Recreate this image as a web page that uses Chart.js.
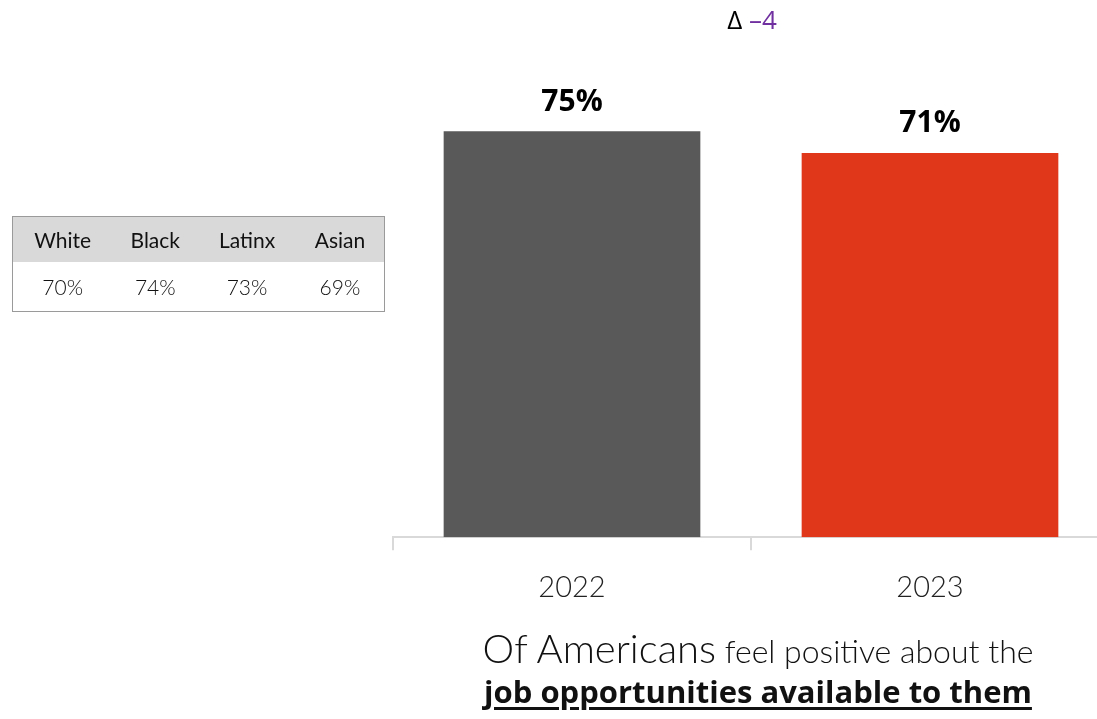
<!DOCTYPE html>
<html>
<head>
<meta charset="utf-8">
<script src="https://cdn.jsdelivr.net/npm/chart.js@4"></script>
<style>
  html, body { margin: 0; padding: 0; background: #fff; overflow: hidden; width: 1097px; height: 719px; }
  #wrap { position: relative; width: 1097px; height: 719px; overflow: hidden; }
  #chart { position: absolute; left: 0; top: -4px; }
  #delta { position: absolute; top: 1px; left: 690px; width: 124px; text-align: center;
           font-family: "Open Sans", sans-serif; font-size: 26px; color: #000; }
  #delta .chg { color: #7030a0; }
  #groups { position: absolute; left: 12px; top: 216px; width: 373px; border: 1px solid #9a9a9a;
            border-collapse: collapse; font-family: Lato, sans-serif; font-weight: 300; font-size: 21px; color: #111; }
  #groups th { background: #d9d9d9; font-weight: 400; height: 45px; padding: 0; text-align: center; }
  #groups td { height: 49px; padding: 0; text-align: center; }
  #caption { position: absolute; left: 438px; top: 626px; width: 640px; text-align: center; color: #111; }
  #caption .l1 { font-family: Lato, sans-serif; font-weight: 300; font-size: 32px; line-height: 44px; }
  #caption .l1 .big { font-size: 40px; }
  #caption .l2 { font-family: "Open Sans", sans-serif; font-weight: 700; font-size: 31px; line-height: 36px;
                 text-decoration: underline; text-underline-offset: 4px; text-decoration-thickness: 3px; }
</style>
</head>
<body>
<div id="wrap">
  <canvas id="chart" width="1120" height="723"></canvas>
  <div id="delta">Δ <span class="chg"></span></div>
  <table id="groups"><thead><tr></tr></thead><tbody><tr></tr></tbody></table>
  <div id="caption">
    <div class="l1"><span class="big">Of Americans</span> feel positive about the</div>
    <div class="l2">job opportunities available to them</div>
  </div>
</div>
<script>
// survey years and share feeling positive
const years = ['2022', '2023'];
const positive = [75, 71];
const barColors = ['#595959', '#e0361a'];

// 2023 breakdown by group
const groups = ['White', 'Black', 'Latinx', 'Asian'];
const groupValues = [70, 74, 73, 69];

// change between years
const change = positive[1] - positive[0];
document.querySelector('#delta .chg').textContent = change > 0 ? '+' + change : '\u2013' + Math.abs(change);

// fill the group table
const headRow = document.querySelector('#groups thead tr');
const bodyRow = document.querySelector('#groups tbody tr');
groups.forEach((g, i) => {
    const th = document.createElement('th');
    th.textContent = g;
    headRow.appendChild(th);
    const td = document.createElement('td');
    td.textContent = groupValues[i] + '%';
    bodyRow.appendChild(td);
});

// value labels above each bar
const valueLabels = {
    id: 'valueLabels',
    afterDatasetsDraw(chart) {
        const ctx = chart.ctx;
        const meta = chart.getDatasetMeta(0);
        ctx.save();
        ctx.font = 'bold 30px "Open Sans", sans-serif';
        ctx.fillStyle = '#000';
        ctx.textAlign = 'center';
        ctx.textBaseline = 'middle';
        meta.data.forEach((bar, i) => {
            ctx.fillText(positive[i] + '%', bar.x, bar.y - 29);
        });
        ctx.restore();
    }
};

const ctx = document.getElementById('chart').getContext('2d');
const chart = new Chart(ctx, {
    type: 'bar',
    data: {
        labels: years,
        datasets: [{
            data: positive,
            backgroundColor: barColors,
            categoryPercentage: 1.0,
            barPercentage: 0.717,
        }],
    },
    options: {
        responsive: false,
        animation: false,
        layout: { padding: { left: 393, right: 11, top: 0, bottom: 94 } },
        plugins: { legend: { display: false }, tooltip: { enabled: false } },
        scales: {
            x: {
                grid: {
                    display: true,
                    drawOnChartArea: false,
                    drawTicks: true,
                    tickLength: 13,
                    color: '#d9d9d9',
                    lineWidth: 2,
                    offset: true,
                },
                border: { display: true, color: '#d9d9d9', width: 2 },
                ticks: {
                    color: '#222',
                    padding: 20,
                    font: { family: 'Lato', weight: 300, size: 29 },
                },
            },
            y: {
                display: false,
                min: 0,
                max: 100,
            },
        },
    },
    plugins: [valueLabels],
});
</script>
</body>
</html>
